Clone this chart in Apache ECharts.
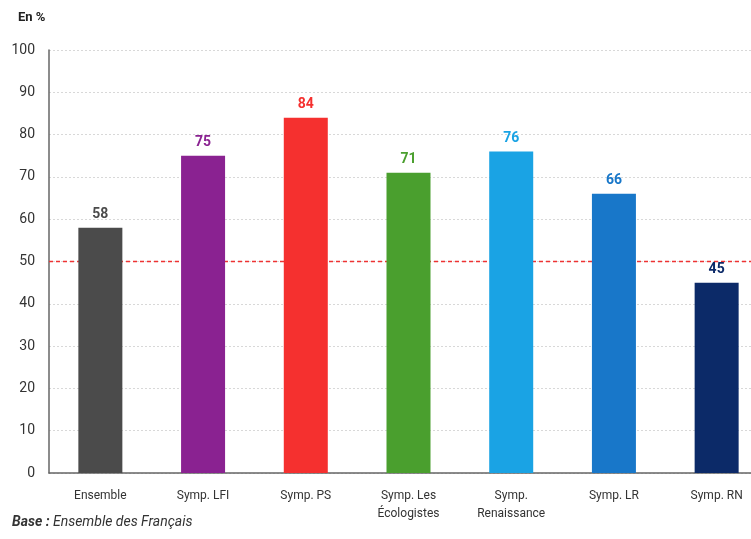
<!DOCTYPE html>
<html><head><meta charset="utf-8">
<script src="https://cdn.jsdelivr.net/npm/echarts@6/dist/echarts.min.js"></script>
<style>html,body{margin:0;padding:0;background:#fff;overflow:hidden}#c{width:768px;height:539px}</style>
</head><body><div id="c"></div>
<script>
const categories = ['Ensemble', 'Symp. LFI', 'Symp. PS', 'Symp. Les\nÉcologistes', 'Symp.\nRenaissance', 'Symp. LR', 'Symp. RN'];
const values = [58, 75, 84, 71, 76, 66, 45];
const barColors = ['#4b4b4b', '#8a2291', '#f5302f', '#4a9f2e', '#1aa3e4', '#1877c9', '#0c2a68'];
const yTicks = [0, 10, 20, 30, 40, 50, 60, 70, 80, 90, 100];
const threshold = 50;
const FONT = '"Liberation Sans Narrow", "Roboto", sans-serif';

const chart = echarts.init(document.getElementById('c'));
chart.setOption({
  animation: false,
  textStyle: { fontFamily: FONT },
  graphic: [
    { type: 'text', left: 18, top: 11, style: { text: 'En %', font: 'bold 13px ' + FONT, fill: '#222' } },
    { type: 'text', left: 12, top: 515, style: { rich: {
        b: { font: 'italic bold 14px ' + FONT, fill: '#333' },
        n: { font: 'italic 14px ' + FONT, fill: '#333' } },
        text: '{b|Base :} {n|Ensemble des Français}' } }
  ],
  grid: { left: 49, top: 50, right: 0, bottom: 66 },
  xAxis: [{
    type: 'category', data: categories,
    axisLine: { lineStyle: { color: '#666', width: 1.5 } },
    axisTick: { show: false },
    axisLabel: { color: '#333', fontSize: 12, margin: 14, lineHeight: 18, fontFamily: FONT }
  }, {
    type: 'value', min: 0, max: 1, show: false
  }],
  yAxis: {
    type: 'value', min: yTicks[0], max: yTicks[yTicks.length - 1], interval: 10,
    axisLine: { show: true, lineStyle: { color: '#666', width: 1.5 } },
    axisTick: { show: false },
    axisLabel: { color: '#333', fontSize: 14, margin: 14, fontFamily: FONT },
    splitLine: { lineStyle: { color: '#d8d8d8', type: [2, 2] } }
  },
  series: [{
    type: 'bar', barWidth: 44, xAxisIndex: 0, z: 4,
    data: values.map((v, i) => ({ value: v, itemStyle: { color: barColors[i] },
      label: { color: barColors[i] } })),
    label: { show: true, position: 'top', fontSize: 14, fontWeight: 'bold', distance: 6, fontFamily: FONT }
  }, {
    type: 'line', xAxisIndex: 1, symbol: 'none', silent: true, z: 3,
    color: '#ee3333',
    data: [[0, threshold], [1, threshold]],
    itemStyle: { color: '#ee3333' },
    lineStyle: { color: '#ee3333', type: [4, 3], width: 1.4 }
  }]
});
</script></body></html>
